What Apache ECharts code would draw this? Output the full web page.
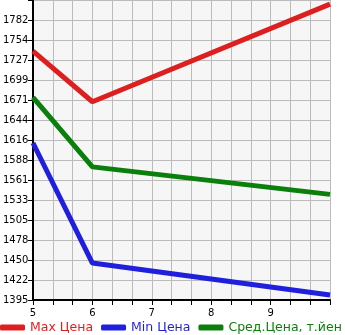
<!DOCTYPE html>
<html><head><meta charset="utf-8">
<script src="https://cdn.jsdelivr.net/npm/echarts@6/dist/echarts.min.js"></script>
<style>html,body{margin:0;padding:0;background:#fff}#c{width:345px;height:335px}</style>
</head><body><div id="c"></div>
<script>
const xLabels = [5, 6, 7, 8, 9];
const yTickLabels = ['1395','1422','1450','1478','1505','1533','1561','1588','1616','1644','1671','1699','1727','1754','1782'];
const seriesNames = ['Max Цена', 'Min Цена', 'Сред.Цена, т.йен'];
const maxPrice = [[5, 1739], [6, 1669], [10, 1804]];
const minPrice = [[5, 1612], [6, 1446], [10, 1402]];
const avgPrice = [[5, 1675], [6, 1579], [10, 1541]];
const colors = ['#dd1f1f', '#1f1fdd', '#0b7f0b'];

const yMin = 1395, yStep = (1782 - 1395) / 14, yMax = yMin + yStep * 15;
const chart = echarts.init(document.getElementById('c'));
chart.setOption({
  animation: false,
  backgroundColor: '#fff',
  grid: { left: 30, right: 15, top: 0, bottom: 35, show: true, backgroundColor: '#f6f6f6', borderWidth: 0 },
  xAxis: {
    type: 'value', min: 5, max: 10, interval: 1,
    axisLine: { lineStyle: { color: '#000', width: 2 } },
    axisTick: { length: 5, lineStyle: { color: '#000' } },
    minorTick: { show: true, splitNumber: 3, length: 5, lineStyle: { color: '#000' } },
    splitLine: { show: true, lineStyle: { color: '#bbb', width: 1 } },
    minorSplitLine: { show: true, lineStyle: { color: '#bbb', width: 1 } },
    axisLabel: { showMaxLabel: false, color: '#000', fontFamily: 'DejaVu Sans', fontSize: 10, margin: 8,
      formatter: v => xLabels.indexOf(Math.round(v)) >= 0 ? String(Math.round(v)) : '' }
  },
  yAxis: {
    type: 'value', min: yMin, max: yMax, interval: yStep,
    axisLine: { show: true, lineStyle: { color: '#000', width: 2 } },
    axisTick: { show: true, length: 5, lineStyle: { color: '#000' } },
    splitLine: { show: true, lineStyle: { color: '#bbb', width: 1 } },
    axisLabel: { showMaxLabel: false, color: '#000', fontFamily: 'DejaVu Sans', fontSize: 10, align: 'left', margin: 30,
      verticalAlign: 'middle', padding: [0, 0, 7, 0],
      formatter: v => { const i = Math.round((v - yMin) / yStep); return yTickLabels[i] || ''; } }
  },
  legend: {
    bottom: 1, left: 0, padding: 0, itemWidth: 25, itemHeight: 6, itemGap: 8, icon: 'roundRect',
    textStyle: { fontFamily: 'DejaVu Sans', fontSize: 12.5 },
    data: seriesNames.map((n, i) => ({ name: n, textStyle: { color: colors[i] } }))
  },
  series: [maxPrice, minPrice, avgPrice].map((d, i) => ({
    name: seriesNames[i], type: 'line', data: d, symbol: 'none',
    lineStyle: { width: 5, color: colors[i] }, itemStyle: { color: colors[i] }
  }))
});
</script></body></html>
